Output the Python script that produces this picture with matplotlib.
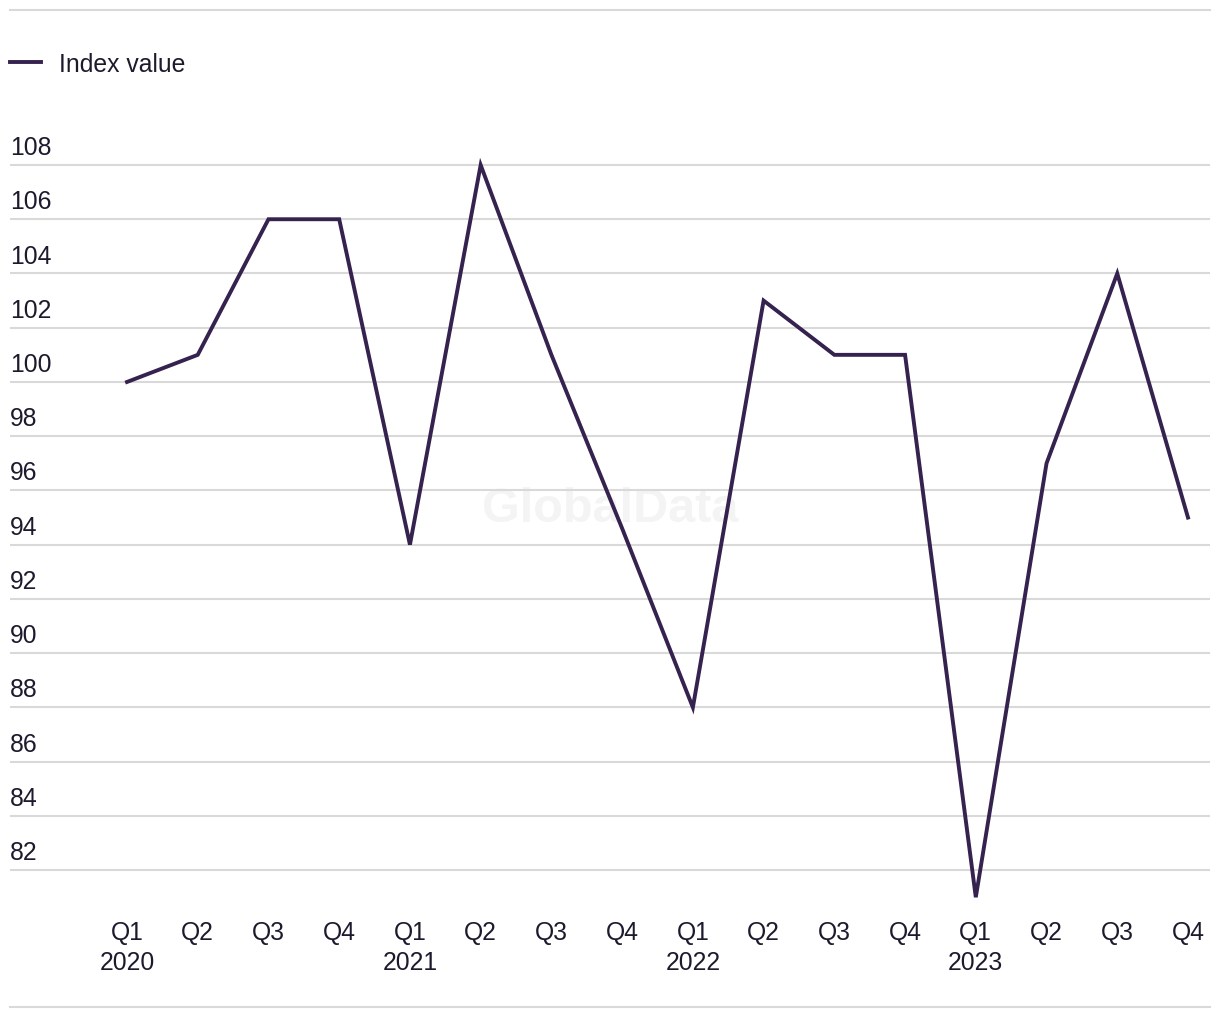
import matplotlib
matplotlib.use("Agg")
import matplotlib.pyplot as plt
from matplotlib.lines import Line2D

quarters = ["Q1", "Q2", "Q3", "Q4"] * 4
years = ["2020", "", "", "", "2021", "", "", "", "2022", "", "", "", "2023", "", "", ""]
index_values = [100, 101, 106, 106, 94, 108, 101, 94.6, 88, 103, 101, 101, 81, 97, 104, 95]
y_ticks = [82, 84, 86, 88, 90, 92, 94, 96, 98, 100, 102, 104, 106, 108]

plt.rcParams['font.family'] = ['Liberation Sans', 'DejaVu Sans']
W, H = 1220, 1020
fig = plt.figure(figsize=(W / 100, H / 100), dpi=100)

# axes spans x 10..1210 px, y 150..899 px
left, right, top, bottom = 10, 1210, 150, 899
ax = fig.add_axes([left / W, 1 - bottom / H, (right - left) / W, (bottom - top) / H])

text_color = "#1c1b2e"
line_color = "#35224f"
grid_color = "#d9d9d9"

step = 70.73
x = list(range(len(index_values)))
ax.set_xlim(-(127 - left) / step, 15 + (right - 1188) / step)
ppu = 27.12
ax.set_ylim(108 - (bottom - 166) / ppu, 108 + (166 - top) / ppu)

for t in y_ticks:
    ax.axhline(t, color=grid_color, lw=1.5, zorder=1)
    ax.text(0, t + 0.22, str(t), transform=ax.get_yaxis_transform(), ha="left", va="bottom",
            fontsize=17.8, color=text_color)

ax.plot(x, index_values, color=line_color, lw=2.8, zorder=3, clip_on=False,
        solid_joinstyle="miter", label="Index value")

ax.set_yticks([])
ax.set_xticks(x)
ax.set_xticklabels([q + ("\n" + y if y else "") for q, y in zip(quarters, years)],
                   fontsize=17.8, color=text_color, va="top", linespacing=1.34)
ax.tick_params(axis="x", length=0, pad=15.5)
for s in ax.spines.values():
    s.set_visible(False)

ax.text(0.5, (1 - 510 / H), "GlobalData", transform=fig.transFigure, ha="center", va="center",
        fontsize=35, fontweight="bold", color="#f4f4f4", zorder=0)

leg = fig.legend(handles=[Line2D([0], [0], color=line_color, lw=2.8)], labels=["Index value"],
                 loc="center left", bbox_to_anchor=(10 / W, 1 - 65 / H), frameon=False,
                 fontsize=17.8, handlelength=1.25, handletextpad=0.75, borderpad=0, borderaxespad=0)
for t in leg.get_texts():
    t.set_color(text_color)

for yy in (11, 1008):
    fig.add_artist(Line2D([10 / W, 1210 / W], [1 - yy / H, 1 - yy / H], transform=fig.transFigure,
                          color=grid_color, lw=1.5))

fig.savefig("out.png", dpi=100, facecolor="white")
